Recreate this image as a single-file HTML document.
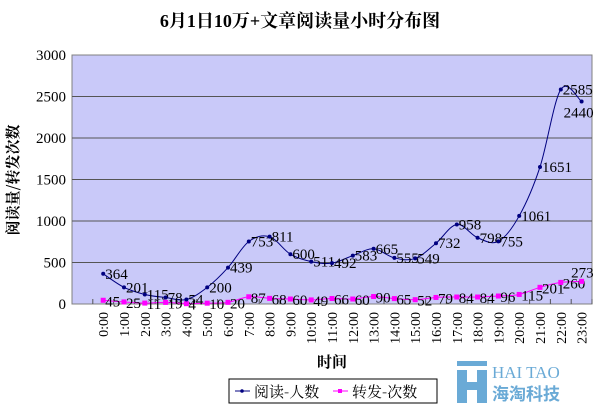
<!DOCTYPE html>
<html><head><meta charset="utf-8"><style>
body{margin:0;background:#fff}
svg{display:block;font-family:"Liberation Serif","Noto Serif CJK SC",serif}
</style></head><body>
<svg id="c" width="600" height="405" viewBox="0 0 600 405">
<text x="300" y="27" text-anchor="middle" font-size="18" font-weight="bold" font-family="'Liberation Serif','Noto Serif CJK SC',serif">6月1日10万+文章阅读量小时分布图</text>
<rect x="72" y="55" width="520" height="249" fill="#c9c9f9" stroke="#808080"/>
<g id="grid"></g><g id="ylab"></g><g id="xlab"></g><g id="s2"></g><g id="s1"></g>
<text x="0" y="0" transform="translate(18,180) rotate(-90)" text-anchor="middle" font-size="15" font-weight="bold" font-family="'Noto Serif CJK SC',serif">阅读量/转发次数</text>
<text x="332" y="367" text-anchor="middle" font-size="15" font-weight="bold" font-family="'Noto Serif CJK SC',serif">时间</text>
<g>
<rect x="229" y="379" width="208" height="24" fill="#fff" stroke="#000"/>
<g><line x1="235" y1="391" x2="250" y2="391" stroke="#000080"/><circle cx="242" cy="391" r="1.8" fill="#000080"/><text x="254" y="397" font-size="15" font-family="'Noto Serif CJK SC',serif">阅读-人数</text></g>
<g><line x1="333" y1="391" x2="348" y2="391" stroke="#ff00ff"/><rect x="338" y="389" width="4" height="4" fill="#ff00ff"/><text x="352" y="397" font-size="15" font-family="'Noto Serif CJK SC',serif">转发-次数</text></g>
</g>
<g>
<rect x="457" y="360" width="143" height="45" fill="#fff"/>
<rect x="457" y="361" width="30" height="5" fill="#6aaad6"/>
<rect x="457" y="370" width="10" height="33" fill="#6aaad6"/><rect x="477" y="370" width="10" height="33" fill="#6aaad6"/><rect x="467" y="382" width="10" height="8" fill="#6aaad6"/>
<text x="492" y="378" font-size="17" fill="#6aaad6" font-family="'Liberation Serif',serif">HAI TAO</text>
<text x="492" y="400" font-size="17" font-weight="bold" fill="#6aaad6" font-family="'Noto Sans CJK SC',sans-serif">海淘科技</text>
</g>
</svg>
<script>
const hours=["0:00","1:00","2:00","3:00","4:00","5:00","6:00","7:00","8:00","9:00","10:00","11:00","12:00","13:00","14:00","15:00","16:00","17:00","18:00","19:00","20:00","21:00","22:00","23:00"];
const reads=[364,201,115,78,54,200,439,753,811,600,511,492,583,665,555,549,732,958,798,755,1061,1651,2585,2440];
const shares=[45,25,11,19,4,10,20,87,68,60,49,66,60,90,65,52,79,84,84,96,115,201,260,273];
const yTicks=[0,500,1000,1500,2000,2500,3000];
const NS="http://www.w3.org/2000/svg";
const L=72,T=55,W=520,H=249,step=W/25;
const x=i=>L+step*(i+1.5);
const y=v=>T+H-v/3000*H;
function mk(t,a,p){const e=document.createElementNS(NS,t);for(const k in a)e.setAttribute(k,a[k]);document.getElementById(p).appendChild(e);return e;}
yTicks.forEach(v=>{
 if(v>0&&v<3000){const g=mk('line',{x1:L,x2:L+W,y1:y(v),y2:y(v),stroke:'#555'},'grid');
 
 }
 const t=mk('text',{x:66,y:y(v)+5,'text-anchor':'end','font-size':15},'ylab');t.textContent=v;
 
 
});
for(let i=0;i<=24;i++){mk('line',{x1:L+step*(i+1),x2:L+step*(i+1),y1:T+H,y2:T+H-5,stroke:'#555'},'grid');}
hours.forEach((h,i)=>{
 const t=mk('text',{transform:`translate(${x(i)+5},312) rotate(-90)`,'text-anchor':'end','font-size':14},'xlab');t.textContent=h;
 
 
});
function smooth(pts){
 let d='M'+pts[0][0]+','+pts[0][1];
 for(let i=0;i<pts.length-1;i++){
  const p0=pts[Math.max(0,i-1)],p1=pts[i],p2=pts[i+1],p3=pts[Math.min(pts.length-1,i+2)];
  const c1=[p1[0]+(p2[0]-p0[0])/6,p1[1]+(p2[1]-p0[1])/6],c2=[p2[0]-(p3[0]-p1[0])/6,p2[1]-(p3[1]-p1[1])/6];
  d+=`C${c1[0]},${c1[1]} ${c2[0]},${c2[1]} ${p2[0]},${p2[1]}`;
 }
 return d;
}
function series(data,col,par,sq,name){
 const p=mk('path',{d:smooth(data.map((v,i)=>[x(i),y(v)])),fill:'none',stroke:col,'stroke-width':1},par);
 
 
 data.forEach((v,i)=>{
  const m=sq?mk('rect',{x:x(i)-2.5,y:y(v)-2.5,width:5,height:5,fill:col},par):mk('circle',{cx:x(i),cy:y(v),r:2,fill:col},par);
  
  
  const last=i===data.length-1;
  const t=mk('text',last?{x:x(i)+12,y:y(v)+(sq?-4:16),'font-size':15,'text-anchor':'end'}:{x:x(i)+2,y:y(v)+(sq?6:5),'font-size':15},par);t.textContent=v;
  
  
 });
}
series(shares,'#ff00ff','s2',true,'shares');
series(reads,'#000080','s1',false,'reads');
</script>
</body></html>
